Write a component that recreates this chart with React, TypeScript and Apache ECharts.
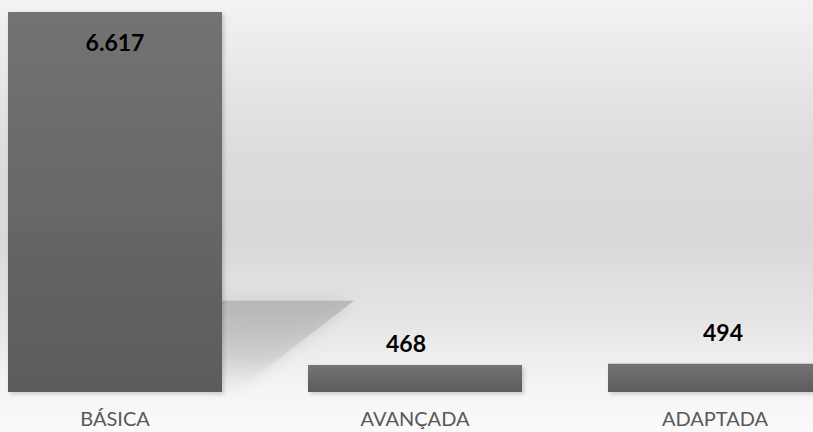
import React, { useEffect, useRef } from "react";
import * as echarts from "echarts";

const categories = ["BÁSICA", "AVANÇADA", "ADAPTADA"];
const values = [6617, 468, 494];
const valueLabels = ["6.617", "468", "494"];

export default function App() {
  const ref = useRef<HTMLDivElement>(null);
  useEffect(() => {
    if (!ref.current) return;
    const chart = echarts.init(ref.current, undefined, { renderer: "svg" });
    const barGrad = new echarts.graphic.LinearGradient(0, 0, 0, 1, [
      { offset: 0, color: "#737373" },
      { offset: 1, color: "#5c5c5c" },
    ]);
    const labelCfg = [
      { position: "insideTop", distance: 18, offset: [0, 0] },
      { position: "top", distance: 11, offset: [-9, 0] },
      { position: "top", distance: 20, offset: [8, 0] },
    ];
    const data = values.map((v, i) => ({
      value: v,
      label: {
        show: true,
        position: labelCfg[i].position,
        distance: labelCfg[i].distance,
        offset: labelCfg[i].offset,
        formatter: () => valueLabels[i],
        fontFamily: "Lato",
        fontWeight: "bold",
        fontSize: 23,
        color: "#000000",
      },
    }));
    chart.setOption({
      animation: false,
      backgroundColor: new echarts.graphic.LinearGradient(0, 0, 0, 1, [
        { offset: 0, color: "#f3f3f3" },
        { offset: 0.1, color: "#ececec" },
        { offset: 0.35, color: "#dcdcdc" },
        { offset: 0.55, color: "#d9d9d9" },
        { offset: 0.75, color: "#e6e6e6" },
        { offset: 0.9, color: "#f5f5f5" },
        { offset: 1, color: "#fafafa" },
      ]),
      grid: { left: 0, right: 0, top: 12, bottom: 40 },
      xAxis: {
        type: "category",
        data: categories,
        axisLine: { show: false },
        axisTick: { show: false },
        axisLabel: {
          margin: 16,
          fontFamily: "Lato",
          fontSize: 20,
          color: "#595959",
        },
      },
      yAxis: {
        type: "value",
        min: 0,
        max: 6617,
        show: false,
        splitLine: { show: false },
      },
      series: [
        {
          type: "bar",
          data,
          barWidth: 214,
          itemStyle: {
            color: barGrad,
            shadowColor: "rgba(0,0,0,0.18)",
            shadowBlur: 4,
            shadowOffsetX: 2,
            shadowOffsetY: 2,
          },
        },
      ],
    });
    const p0 = chart.convertToPixel({ seriesIndex: 0 }, [0, 0]) as number[];
    const pTop = chart.convertToPixel({ seriesIndex: 0 }, [0, values[0]]) as number[];
    const right = p0[0] + 107;
    const base = p0[1];
    const h = base - pTop[1];
    const top = base - h * 0.24;
    chart.setOption({
      graphic: [
        {
          type: "polygon",
          z: 0,
          shape: {
            points: [
              [right, top],
              [right + 132, top],
              [right + 14, base],
              [right, base],
            ],
          },
          style: {
            fill: new echarts.graphic.LinearGradient(0, 0, 0, 1, [
              { offset: 0, color: "rgba(170,170,170,0.7)" },
              { offset: 0.6, color: "rgba(195,195,195,0.5)" },
              { offset: 1, color: "rgba(235,235,235,0.1)" },
            ]),
            shadowBlur: 16,
            shadowColor: "rgba(175,175,175,0.7)",
          },
        },
      ],
    });
    return () => chart.dispose();
  }, []);
  return (
    <div
      style={{
        position: "absolute",
        left: 0,
        top: 0,
        width: 813,
        height: 432,
        overflow: "hidden",
      }}
    >
      <div
        ref={ref}
        style={{ position: "absolute", left: -35, top: 0, width: 900, height: 432 }}
      />
    </div>
  );
}
